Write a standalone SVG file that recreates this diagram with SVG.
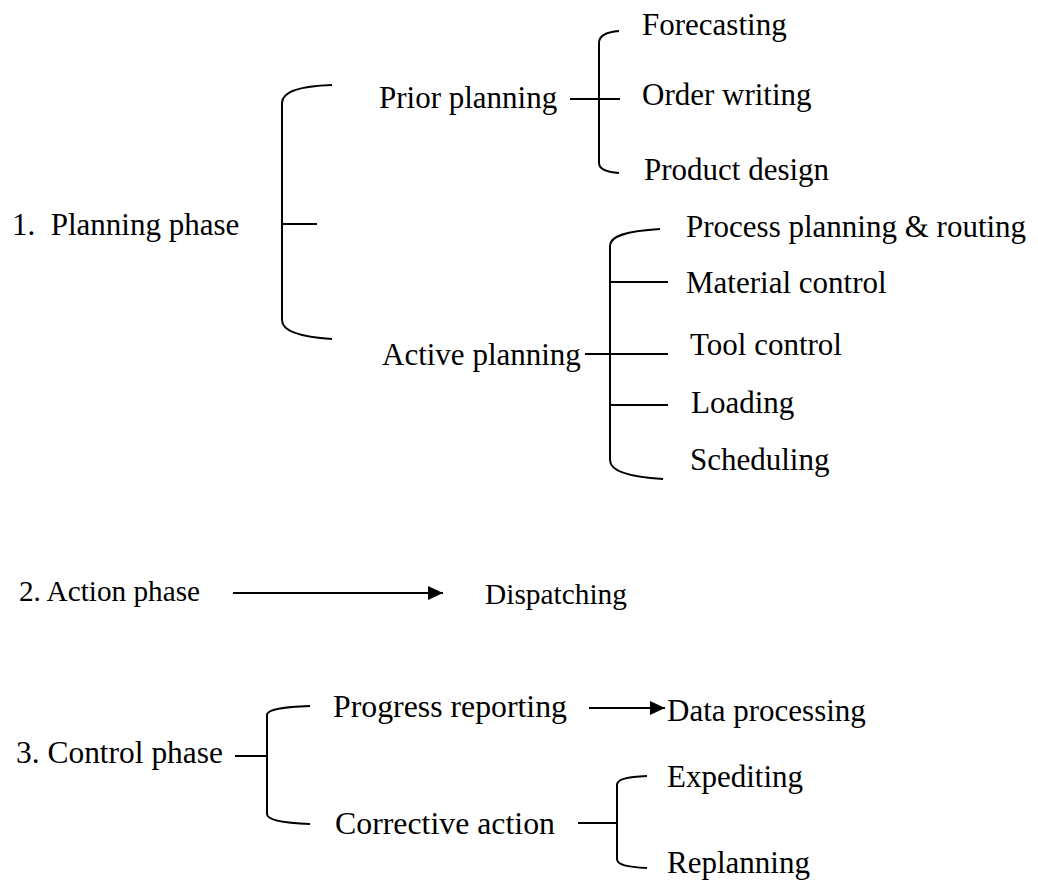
<svg xmlns="http://www.w3.org/2000/svg" width="1038" height="883" viewBox="0 0 1038 883">
<style>
text{font-family:"Liberation Serif","Times New Roman",serif;font-size:31px;fill:#000}
.sm{font-size:29px}
.ln{fill:none;stroke:#000;stroke-width:2}
</style>
<defs>
<marker id="ah" markerUnits="userSpaceOnUse" markerWidth="16" markerHeight="14" refX="15" refY="7" orient="auto">
<path d="M0,0 L15,7 L0,14 z" fill="#000"/>
</marker>
</defs>
<rect width="1038" height="883" fill="#fff"/>
<g id="connectors">
<path class="ln" d="M332,85 C300,86 282,92 282,103 L282,320 C282,331 300,337 332,339"/>
<line class="ln" x1="282" y1="224" x2="317" y2="224"/>
<path class="ln" d="M619,31 C606,32 599,36 599,43 L599,163 C599,169 606,172 619,173"/>
<line class="ln" x1="570" y1="99" x2="620" y2="99"/>
<path class="ln" d="M660,229 C626,231 610,236 610,246 L610,460 C610,471 628,477 663,479"/>
<line class="ln" x1="585" y1="354" x2="668" y2="354"/>
<line class="ln" x1="610" y1="282" x2="668" y2="282"/>
<line class="ln" x1="610" y1="405" x2="668" y2="405"/>
<line class="ln" x1="233" y1="593" x2="443" y2="593" marker-end="url(#ah)"/>
<line class="ln" x1="235" y1="756" x2="267" y2="756"/>
<path class="ln" d="M310,706 C284,707 267,709 267,715 L267,814 C267,820 284,823 310,824"/>
<line class="ln" x1="589" y1="708" x2="665" y2="708" marker-end="url(#ah)"/>
<line class="ln" x1="578" y1="823" x2="617" y2="823"/>
<path class="ln" d="M647,776 C627,777 617,779 617,785 L617,859 C617,865 627,867 647,868"/>
</g>
<g id="n-planning"><text x="12" y="235" xml:space="preserve">1.  Planning phase</text></g>
<g id="n-prior"><text x="379" y="108">Prior planning</text></g>
<g id="n-forecasting"><text x="642" y="35">Forecasting</text></g>
<g id="n-order"><text x="642" y="105">Order writing</text></g>
<g id="n-product"><text x="644" y="180">Product design</text></g>
<g id="n-active"><text x="382" y="365">Active planning</text></g>
<g id="n-process"><text x="686" y="237">Process planning &amp; routing</text></g>
<g id="n-material"><text x="686" y="293">Material control</text></g>
<g id="n-tool"><text x="690" y="355">Tool control</text></g>
<g id="n-loading"><text x="691" y="413">Loading</text></g>
<g id="n-scheduling"><text x="690" y="470">Scheduling</text></g>
<g id="n-action"><text class="sm" x="19" y="601" textLength="181" lengthAdjust="spacingAndGlyphs">2. Action phase</text></g>
<g id="n-dispatching"><text class="sm" x="485" y="604" textLength="142" lengthAdjust="spacingAndGlyphs">Dispatching</text></g>
<g id="n-control"><text x="16" y="763" textLength="207" lengthAdjust="spacingAndGlyphs">3. Control phase</text></g>
<g id="n-progress"><text x="333" y="717" textLength="234" lengthAdjust="spacingAndGlyphs">Progress reporting</text></g>
<g id="n-data"><text x="667" y="721">Data processing</text></g>
<g id="n-corrective"><text x="335" y="834" textLength="220" lengthAdjust="spacingAndGlyphs">Corrective action</text></g>
<g id="n-expediting"><text x="667" y="787">Expediting</text></g>
<g id="n-replanning"><text x="667" y="873">Replanning</text></g>
</svg>
